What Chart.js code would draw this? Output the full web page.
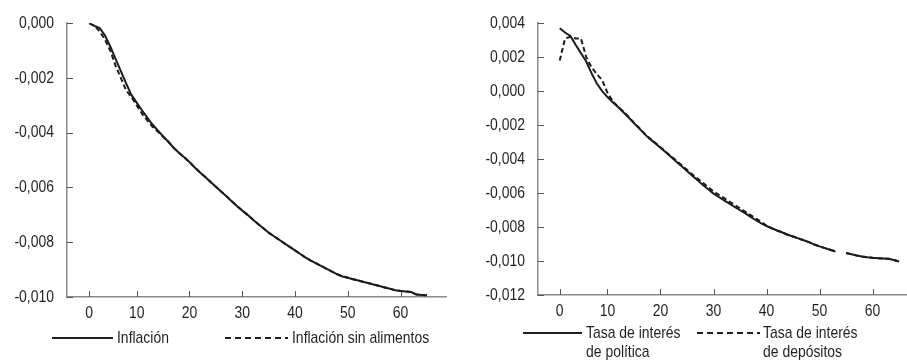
<!DOCTYPE html>
<html><head><meta charset="utf-8">
<script src="https://cdn.jsdelivr.net/npm/chart.js@4.4.1/dist/chart.umd.min.js"></script>
<style>
html,body{margin:0;padding:0;background:#fff;}
body{width:907px;height:360px;position:relative;overflow:hidden;font-family:'Liberation Sans',Arial,sans-serif;color:#231f20;}
.cw{position:absolute;top:0;height:330px;}
.leg{position:absolute;font-size:17px;line-height:19px;white-space:nowrap;transform:scaleX(0.82);transform-origin:0 0;}
.sw{position:absolute;}
</style></head><body>
<div class="cw" style="left:0;width:455px"><canvas id="c1" width="455" height="330"></canvas></div>
<div class="cw" style="left:455px;width:452px"><canvas id="c2" width="452" height="330"></canvas></div>

<svg class="sw" style="left:52px;top:333px" width="62" height="10"><line x1="0" y1="5" x2="61" y2="5" stroke="#231f20" stroke-width="2"/></svg>
<div class="leg" style="left:117px;top:328px">Inflación</div>
<svg class="sw" style="left:225px;top:333px" width="64" height="10"><line x1="0" y1="5" x2="63" y2="5" stroke="#231f20" stroke-width="2" stroke-dasharray="6,4"/></svg>
<div class="leg" style="left:292px;top:328px">Inflación sin alimentos</div>

<svg class="sw" style="left:523px;top:328px" width="60" height="10"><line x1="0" y1="5" x2="59" y2="5" stroke="#231f20" stroke-width="2"/></svg>
<div class="leg" style="left:586px;top:323px">Tasa de interés<br>de política</div>
<svg class="sw" style="left:697px;top:328px" width="64" height="10"><line x1="0" y1="5" x2="63" y2="5" stroke="#231f20" stroke-width="2" stroke-dasharray="6,4"/></svg>
<div class="leg" style="left:763px;top:323px">Tasa de interés<br>de depósitos</div>

<script>
// ---- data ----
const periods = [1,2,3,4,5,6,7,8,9,10,11,12,13,14,15,16,17,18,19,20,21,22,23,24,25,26,27,28,29,30,31,32,33,34,35,36,37,38,39,40,41,42,43,44,45,46,47,48,49,50,51,52,53,54,55,56,57,58,59,60,61,62,63,64,65];
const xTickPos = [1,10,20,30,40,50,60];
const xTickLabels = ['0','10','20','30','40','50','60'];

const inflacion = [0,-0.0001,-0.00018,-0.00045,-0.00085,-0.0013,-0.00175,-0.0022,-0.00262,-0.0029,
  -0.00318,-0.00345,-0.0037,-0.00392,-0.00413,-0.00433,-0.00455,-0.00473,-0.0049,-0.00507,
  -0.00527,-0.00545,-0.00562,-0.0058,-0.00597,-0.00615,-0.00632,-0.0065,-0.00668,-0.00684,
  -0.007,-0.00717,-0.00733,-0.00749,-0.00765,-0.00778,-0.00791,-0.00804,-0.00817,-0.0083,
  -0.00843,-0.00856,-0.00867,-0.00877,-0.00887,-0.00897,-0.00907,-0.00917,-0.00925,-0.0093,
  -0.00935,-0.0094,-0.00945,-0.0095,-0.00955,-0.0096,-0.00965,-0.0097,-0.00975,-0.00978,
  -0.0098,-0.00982,-0.00991,-0.00993,-0.00994];
const inflacionSinAlimentos = [0,-0.0001,-0.0003,-0.0006,-0.001,-0.00155,-0.002,-0.00245,-0.0027,-0.003,
  -0.0033,-0.00355,-0.00378,-0.00396,-0.00415,-0.00433,-0.00455,-0.00473,-0.0049,-0.00507,
  -0.00527,-0.00545,-0.00562,-0.0058,-0.00597,-0.00615,-0.00632,-0.0065,-0.00668,-0.00684,
  -0.007,-0.00717,-0.00733,-0.00749,-0.00765,-0.00778,-0.00791,-0.00804,-0.00817,-0.0083,
  -0.00843,-0.00856,-0.00867,-0.00877,-0.00887,-0.00897,-0.00907,-0.00917,-0.00925,-0.0093,
  -0.00935,-0.0094,-0.00945,-0.0095,-0.00955,-0.0096,-0.00965,-0.0097,-0.00975,-0.00978,
  -0.0098,-0.00982,-0.00991,-0.00993,-0.00994];

const tasaPolitica = [0.0037,0.00345,0.00325,0.00273,0.00224,0.00174,0.00105,0.00045,0.0,-0.00035,
  -0.00065,-0.00093,-0.00124,-0.00155,-0.00188,-0.0022,-0.00253,-0.00281,-0.00307,-0.00333,
  -0.0036,-0.00387,-0.00415,-0.00442,-0.0047,-0.00498,-0.00525,-0.00553,-0.00578,-0.00603,
  -0.00623,-0.00643,-0.00662,-0.00682,-0.00701,-0.0072,-0.0074,-0.0076,-0.00778,-0.00794,
  -0.00807,-0.0082,-0.00832,-0.00845,-0.00856,-0.00867,-0.00878,-0.00889,-0.00903,-0.00914,
  -0.00924,-0.00934,-0.00944,null,-0.00953,-0.0096,-0.00967,-0.00973,-0.00978,-0.00981,
  -0.00983,-0.00985,-0.00987,-0.00994,-0.01003];
const tasaDepositos = [0.0018,0.0031,0.0032,0.0031,0.0031,0.002,0.0014,0.001,0.00065,-0.0001,
  -0.0006,-0.00092,-0.0012,-0.00152,-0.00185,-0.00217,-0.0025,-0.00278,-0.00304,-0.0033,
  -0.00357,-0.00383,-0.0041,-0.00436,-0.00463,-0.0049,-0.00515,-0.0054,-0.00565,-0.0059,
  -0.0061,-0.0063,-0.0065,-0.0067,-0.0069,-0.0071,-0.0073,-0.0075,-0.0077,-0.00792,
  -0.00807,-0.0082,-0.00832,-0.00845,-0.00856,-0.00867,-0.00878,-0.00889,-0.00903,-0.00914,
  -0.00924,-0.00934,-0.00944,null,-0.00953,-0.0096,-0.00967,-0.00973,-0.00978,-0.00981,
  -0.00983,-0.00985,-0.00987,-0.00994,-0.01003];

// ---- rendering ----
// condensed (narrow) look for canvas text: compress glyphs horizontally via maxWidth
const _origFillText = CanvasRenderingContext2D.prototype.fillText;
CanvasRenderingContext2D.prototype.fillText = function (t, x, y, mw) {
  const w = this.measureText(t).width * 0.82;
  return _origFillText.call(this, t, x, y, mw !== undefined ? Math.min(mw, w) : w);
};

Chart.defaults.font.family = "'Liberation Sans', Arial, sans-serif";
Chart.defaults.font.size = 17;
Chart.defaults.color = '#231f20';

const inwardTicks = {
  id: 'inwardTicks',
  beforeDatasetsDraw(chart) {
    const {ctx, chartArea: a, scales: {x, y}} = chart;
    ctx.save();
    ctx.strokeStyle = '#555';
    ctx.lineWidth = 1;
    x.ticks.forEach(t => {
      const px = Math.round(x.getPixelForValue(t.value)) + 0.5;
      ctx.beginPath(); ctx.moveTo(px, a.bottom); ctx.lineTo(px, a.bottom - 6); ctx.stroke();
    });
    y.ticks.forEach(t => {
      const py = Math.round(y.getPixelForValue(t.value)) + 0.5;
      ctx.beginPath(); ctx.moveTo(a.left, py); ctx.lineTo(a.left + 6, py); ctx.stroke();
    });
    ctx.restore();
  }
};

function pairs(arr) { return periods.map((p, i) => ({x: p, y: arr[i]})); }

function makeChart(id, s1, s2, cfg) {
  return new Chart(document.getElementById(id), {
    type: 'line',
    data: {
      datasets: [
        {data: pairs(s1), borderColor: '#1f1b1c', borderWidth: 2, pointRadius: 0, tension: 0, spanGaps: false},
        {data: pairs(s2), borderColor: '#1f1b1c', borderWidth: 2, borderDash: [5, 3], pointRadius: 0, tension: 0, spanGaps: false}
      ]
    },
    options: {
      responsive: false,
      animation: false,
      layout: {padding: cfg.padding},
      plugins: {legend: {display: false}, tooltip: {enabled: false}},
      scales: {
        x: {
          type: 'linear', min: cfg.xmin, max: cfg.xmax,
          grid: {display: false, drawTicks: false},
          border: {display: true, color: '#8c8c8c', width: 1.5},
          afterBuildTicks: s => { s.ticks = xTickPos.map(v => ({value: v})); },
          afterFit: s => { s.height = cfg.xh; },
          ticks: {autoSkip: false, maxRotation: 0, padding: 6, callback: (v, i) => xTickLabels[i]}
        },
        y: {
          min: cfg.ymin, max: cfg.ymax,
          grid: {display: false, drawTicks: false},
          border: {display: true, color: '#8c8c8c', width: 1.5},
          afterFit: s => { s.width = cfg.yw; },
          ticks: {stepSize: 0.002, padding: 13,
            callback: v => (Math.abs(v) < 1e-9 ? 0 : v).toFixed(3).replace('.', ',')}
        }
      }
    },
    plugins: [inwardTicks]
  });
}

makeChart('c1', inflacion, inflacionSinAlimentos,
  {padding: {top: 19, right: 9, left: 0, bottom: 0}, xmin: -3.2, xmax: 68.6, ymin: -0.010, ymax: 0, xh: 33, yw: 67});
makeChart('c2', tasaPolitica, tasaDepositos,
  {padding: {top: 16, right: 1, left: 0, bottom: 0}, xmin: -3.1, xmax: 66.3, ymin: -0.012, ymax: 0.004, xh: 35, yw: 83});
</script>
</body></html>
